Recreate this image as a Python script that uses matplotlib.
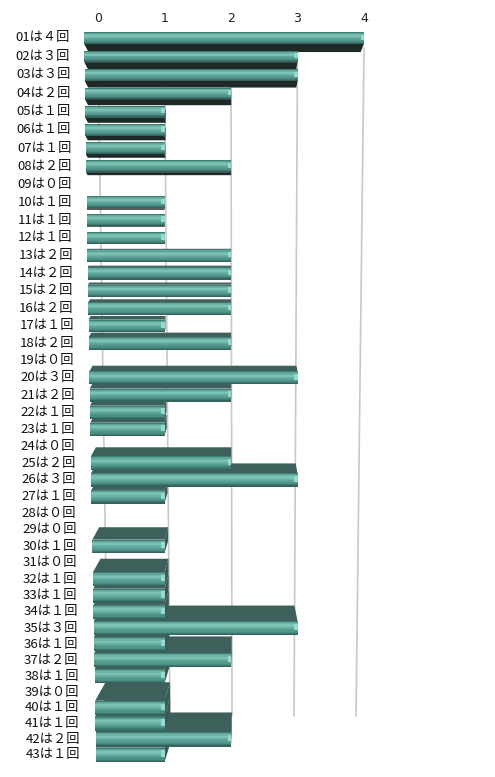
import numpy as np
import matplotlib
matplotlib.use("Agg")
import matplotlib.pyplot as plt
from matplotlib.patches import Polygon
from matplotlib.colors import LinearSegmentedColormap

plt.rcParams['font.family'] = ['Noto Sans CJK JP', 'DejaVu Sans']

# ---- data ----
numbers = ['01', '02', '03', '04', '05', '06', '07', '08', '09', '10',
           '11', '12', '13', '14', '15', '16', '17', '18', '19', '20',
           '21', '22', '23', '24', '25', '26', '27', '28', '29', '30',
           '31', '32', '33', '34', '35', '36', '37', '38', '39', '40',
           '41', '42', '43']
counts = [4, 3, 3, 2, 1, 1, 1, 2, 0, 1,
          1, 1, 2, 2, 2, 2, 1, 2, 0, 3,
          2, 1, 1, 0, 2, 3, 1, 0, 0, 1,
          0, 1, 1, 1, 3, 1, 2, 1, 0, 1,
          1, 2, 1]
x_ticks = [0, 1, 2, 3, 4]

FW = str.maketrans('0123456789', '０１２３４５６７８９')
labels = [f"{n}は{str(c).translate(FW)}回" for n, c in zip(numbers, counts)]

# ---- geometry / style ----
W, H = 495, 777
PX0, PXU = 98.0, 66.5          # pixel of x=0, pixels per unit
AX_L, AX_R = 84.0, 404.0
XMIN = (AX_L - PX0) / PXU
XMAX = (AX_R - PX0) / PXU
BASE_SLANT = 12.0 / PXU / 42.0  # left wall recedes to the right going down

Q = -0.001923                  # mild vertical perspective
ROW0_PX, ROW_PX = 38.0, 18.57
K_TOP, K_BOT = -0.6, 43.0

def fwd(k):
    k = np.asarray(k, dtype=float)
    return k + Q * k * k

def inv(f):
    f = np.asarray(f, dtype=float)
    disc = np.clip(1 + 4 * Q * f, 1e-9, None)
    return (-1 + np.sqrt(disc)) / (2 * Q)

top_px = ROW0_PX + ROW_PX * float(fwd(K_TOP))
bot_px = ROW0_PX + ROW_PX * float(fwd(K_BOT))

fig = plt.figure(figsize=(W / 100, H / 100), dpi=100)
ax = fig.add_axes([AX_L / W, (H - bot_px) / H, (AX_R - AX_L) / W, (bot_px - top_px) / H])
ax.set_yscale('function', functions=(fwd, inv))
ax.set_xlim(XMIN, XMAX)
ax.set_ylim(K_BOT, K_TOP)
for s in ax.spines.values():
    s.set_visible(False)
ax.set_yticks([])
ax.xaxis.tick_top()
ax.set_xticks(x_ticks)
ax.set_xticklabels([str(t) for t in x_ticks], fontsize=9, color='#222222',
                   family=['DejaVu Sans'])
ax.tick_params(axis='x', length=0, pad=1)

# slanted back-wall gridlines
G_K0, G_K1 = 0.5, 39.55
for t in x_ticks:
    shift = 0.15 - 0.0675 * t
    ax.plot([t, t + shift], [G_K0, G_K1], color='#c9c9c9', lw=1.2,
            zorder=0.5, solid_capstyle='butt')

VP_K, VP_X = 11.0, 2.2
BETA, GAM = 0.0416, 0.0025
front_cmap = LinearSegmentedColormap.from_list('front', [
    (0.00, '#35665f'), (0.12, '#5ca597'), (0.32, '#82c8bb'),
    (0.52, '#62aa9d'), (0.80, '#4a8c82'), (1.00, '#2f5a54')])
NS = 12

for k, (v, lab) in enumerate(zip(counts, labels)):
    # category label
    lx = (70.0 + 10.0 * k / 42.0 - PX0) / PXU
    ax.text(lx, k, lab, ha='right', va='center', fontsize=9.5,
            color='#111111', clip_on=False)
    if v <= 0:
        continue
    base = XMIN + BASE_SLANT * k
    z = 3.0 - 0.02 * abs(k - VP_K)
    h = 0.6 + 0.008 * k
    dk = k - VP_K
    d = BETA * dk
    xl_b = base + GAM * (VP_X - base) * abs(dk)
    xr_b = v + GAM * (VP_X - v) * abs(dk)
    if dk >= 0:      # top face visible
        ye = k - h / 2
        face_col = '#3e605b'
    else:            # bottom face visible
        ye = k + h / 2
        face_col = '#1d2a28'
    yb = ye - d
    ax.add_patch(Polygon([(base, ye), (v, ye), (xr_b, yb), (xl_b, yb)],
                         closed=True, facecolor=face_col, edgecolor='none',
                         zorder=z))
    # right end face
    if xr_b > v:
        ax.add_patch(Polygon([(v, k - h / 2), (xr_b, k - h / 2 - d),
                              (xr_b, k + h / 2 - d), (v, k + h / 2)],
                             closed=True, facecolor='#3a5c57',
                             edgecolor='none', zorder=z + 0.001))
    # front face with vertical gradient stripes
    sh = h / NS
    for i in range(NS):
        yc = k - h / 2 + (i + 0.5) * sh
        ax.barh(yc, v - base, height=sh * 1.15, left=base,
                color=front_cmap((i + 0.5) / NS), linewidth=0,
                zorder=z + 0.002 + i * 0.0001)
    # bright rounded end highlight
    ax.barh(k - h * 0.08, 0.05, height=h * 0.45, left=v - 0.05,
            color='#8fdcd2', linewidth=0, zorder=z + 0.004)

fig.savefig('out.png', dpi=100)
